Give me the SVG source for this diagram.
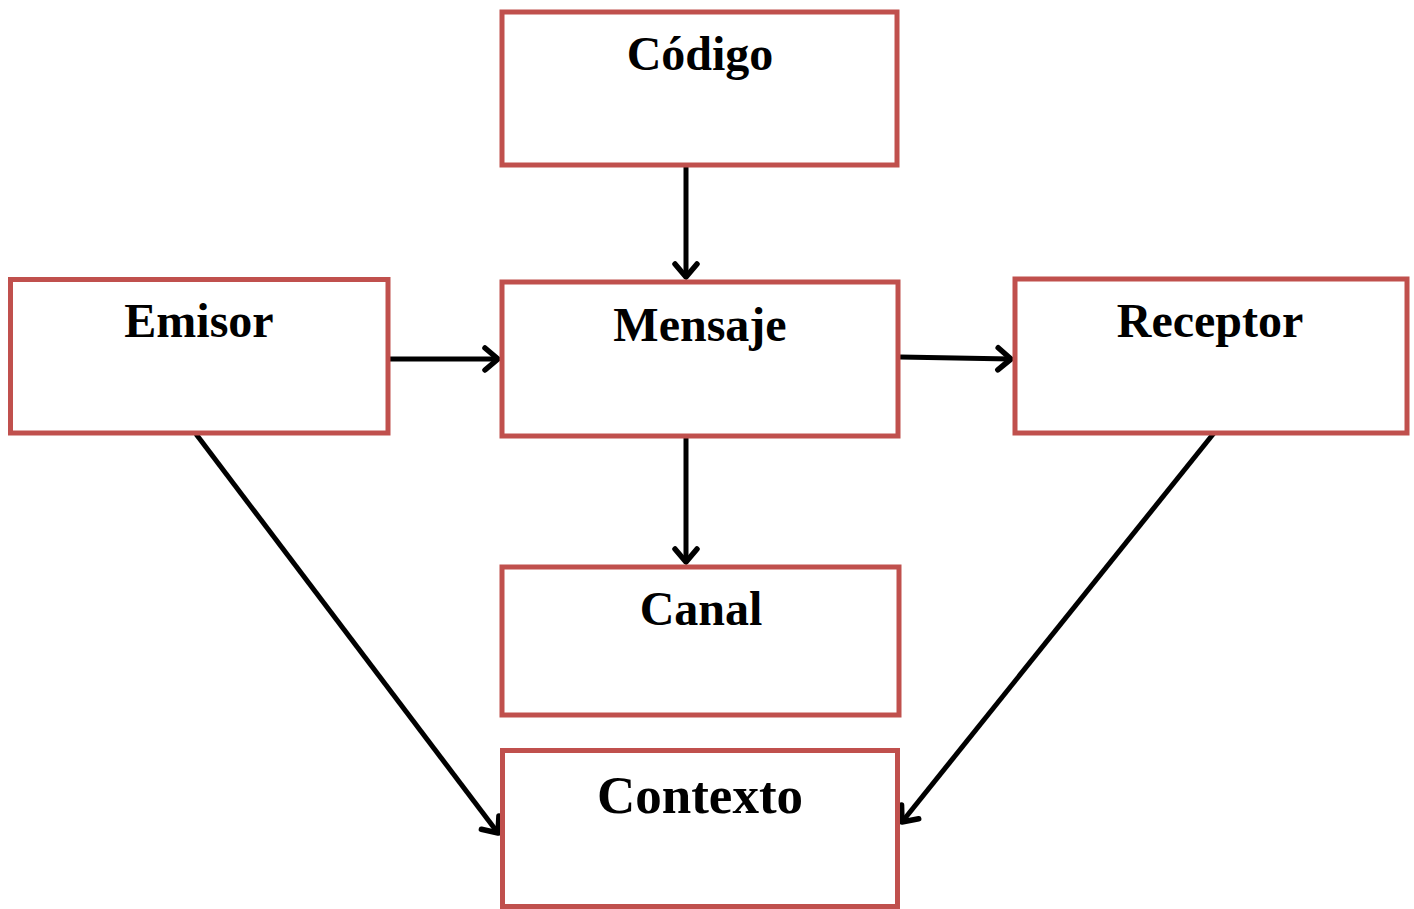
<svg xmlns="http://www.w3.org/2000/svg" width="1414" height="909" viewBox="0 0 1414 909">
<defs>
<style>
.box{fill:#fff;stroke:#C0504D;stroke-width:5}
.lbl{font-family:"Liberation Serif","Times New Roman",serif;font-weight:bold;font-size:48px;fill:#000;text-anchor:middle}
.con{stroke:#000;stroke-width:5;fill:none;marker-end:url(#ah)}
</style>
<marker id="ah" markerUnits="userSpaceOnUse" viewBox="-20 -16 24 32" markerWidth="24" markerHeight="32" refX="0" refY="0" orient="auto" overflow="visible">
<path d="M-13,-11 L0,0 L-13,11" fill="none" stroke="#000" stroke-width="5.5" stroke-linecap="round" stroke-linejoin="round"/>
</marker>
</defs>
<rect width="1414" height="909" fill="#fff"/>
<g id="connectors">
<line class="con" x1="686" y1="167" x2="686" y2="277"/>
<line class="con" x1="389" y1="359" x2="498" y2="359"/>
<line class="con" x1="900" y1="357" x2="1011" y2="359"/>
<line class="con" x1="686" y1="436" x2="686" y2="562"/>
<line class="con" x1="196" y1="434" x2="498" y2="833"/>
<line class="con" x1="1214" y1="433" x2="902" y2="822"/>
</g>
<g id="codigo"><rect class="box" x="502" y="12" width="395" height="153"/><text class="lbl" x="700" y="70">Código</text></g>
<g id="emisor"><rect class="box" x="10.5" y="279.5" width="377.5" height="153.5"/><text class="lbl" x="199" y="337">Emisor</text></g>
<g id="mensaje"><rect class="box" x="502" y="282" width="396" height="154"/><text class="lbl" x="700" y="341">Mensaje</text></g>
<g id="receptor"><rect class="box" x="1015" y="279" width="392" height="154"/><text class="lbl" x="1210" y="337">Receptor</text></g>
<g id="canal"><rect class="box" x="502" y="567" width="397" height="148"/><text class="lbl" x="701" y="625">Canal</text></g>
<g id="contexto"><rect class="box" x="502.5" y="750.5" width="395" height="156"/><text class="lbl" x="700" y="813" style="font-size:53px">Contexto</text></g>
</svg>
